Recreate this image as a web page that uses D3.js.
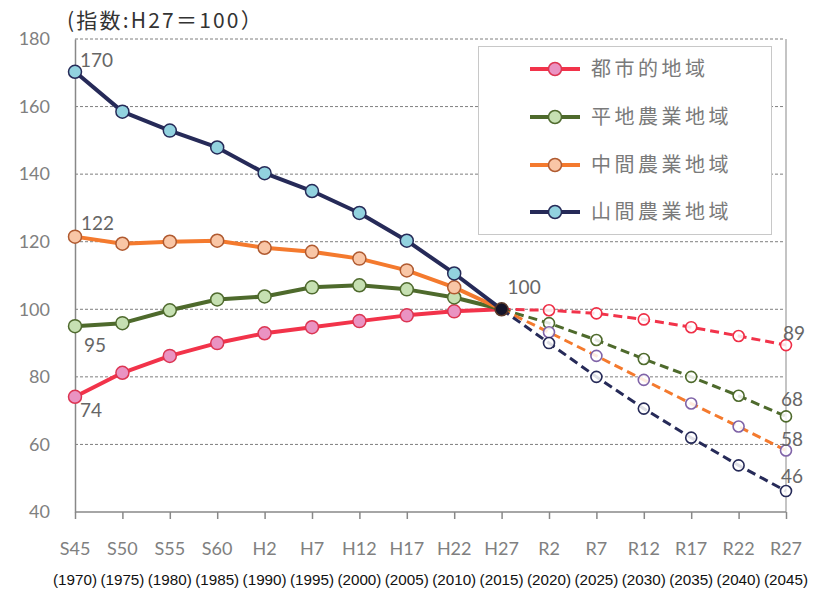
<!DOCTYPE html>
<html><head><meta charset="utf-8">
<script src="https://cdn.jsdelivr.net/npm/d3@7"></script>
<style>body{margin:0;background:#fff}svg{display:block}</style>
</head><body>
<svg id="c" width="826" height="590"></svg>
<script>
const eraLabels = ["S45","S50","S55","S60","H2","H7","H12","H17","H22","H27","R2","R7","R12","R17","R22","R27"];
const yearLabels = ["1970","1975","1980","1985","1990","1995","2000","2005","2010","2015","2020","2025","2030","2035","2040","2045"];
const yTicks = [40,60,80,100,120,140,160,180];
const seriesNames = ["都市的地域","平地農業地域","中間農業地域","山間農業地域"];
const urban    = [74.1,81.2,86.2,90.0,92.9,94.7,96.5,98.2,99.4,100,99.7,98.8,97.0,94.7,92.1,89.4];
const plain    = [95.0,95.9,99.7,102.9,103.8,106.5,107.1,105.9,103.5,100,95.9,90.9,85.3,80.0,74.4,68.3];
const middle   = [121.5,119.4,120.0,120.3,118.2,117.0,115.0,111.5,106.5,100,93.2,86.2,79.1,72.1,65.3,58.2];
const mountain = [170.3,158.5,152.9,147.9,140.3,135.0,128.5,120.3,110.6,100,90.0,80.0,70.6,62.0,53.8,46.2];
const baseIndex = 9;

const styles = [
  {line:"#f2334a", fill:"#ea93c2", stroke:"#dc3552", proj:"#ef2e46"},
  {line:"#4e6a2c", fill:"#c6e0b2", stroke:"#4f6a2e", proj:"#4e6a2c"},
  {line:"#f47a2e", fill:"#f9c6a6", stroke:"#b05a30", proj:"#8064a8"},
  {line:"#262a58", fill:"#92d2df", stroke:"#262a58", proj:"#262a58"}
];
const data = [urban, plain, middle, mountain];

const svg = d3.select("#c");
const x = d3.scalePoint().domain(eraLabels).range([75, 786]);
const y = d3.scaleLinear().domain([40,180]).range([512, 39]);

// gridlines
svg.append("g").selectAll("line").data(yTicks.filter(t=>t>40)).join("line")
  .attr("x1",75).attr("x2",784).attr("y1",d=>y(d)).attr("y2",d=>y(d))
  .attr("stroke","#7f7f7f").attr("stroke-width",1).attr("stroke-dasharray","3,2");

// right border line
svg.append("line").attr("x1",786).attr("x2",786).attr("y1",y(180)).attr("y2",y(40))
  .attr("stroke","#b0b0b0").attr("stroke-width",1.5);

// y axis
const yAxis = d3.axisLeft(y).tickValues(yTicks).tickSize(0).tickPadding(25);
const gy = svg.append("g").attr("transform","translate(75,0)").call(yAxis);
gy.select(".domain").attr("stroke","#888").attr("stroke-width",1.5);
gy.selectAll("text").attr("font-family","Lato, 'Open Sans', sans-serif").attr("font-size",18).attr("fill","#808080");

// x axis
const xAxis = d3.axisBottom(x).tickSize(7).tickFormat(()=>"");
const gx = svg.append("g").attr("transform","translate(0,512)").call(xAxis);
gx.select(".domain").attr("stroke","#888").attr("stroke-width",1.5).attr("d","M75,0H786");
gx.selectAll(".tick line").attr("stroke","#888").attr("stroke-width",1.5);

svg.append("g").selectAll("text").data(eraLabels).join("text")
  .attr("x",d=>x(d)).attr("y",555).attr("text-anchor","middle")
  .attr("font-family","Lato, 'Open Sans', sans-serif").attr("font-size",18).attr("fill","#808080")
  .text(d=>d);
svg.append("g").selectAll("text").data(yearLabels).join("text")
  .attr("x",(d,i)=>x(eraLabels[i])).attr("y",585).attr("text-anchor","middle")
  .attr("font-family","'Liberation Sans', Arial, sans-serif").attr("font-size",14).attr("fill","#111")
  .attr("textLength",44).attr("lengthAdjust","spacingAndGlyphs")
  .text(d=>"("+d+")");

// title
svg.append("text").attr("x",67).attr("y",28)
  .attr("font-family","'Noto Sans CJK JP', sans-serif").attr("font-size",21).attr("fill","#333")
  .attr("letter-spacing",2.2)
  .text("(指数:H27＝100）");

const line = d3.line().x(d=>x(eraLabels[d.i])).y(d=>y(d.v));

// projected dashed lines
data.forEach((arr,s)=>{
  const pts = arr.map((v,i)=>({v,i})).filter(d=>d.i>=baseIndex);
  svg.append("path").datum(pts).attr("d",line).attr("fill","none")
    .attr("stroke",styles[s].line).attr("stroke-width",3).attr("stroke-dasharray","9,5");
});
data.forEach((arr,s)=>{
  const pts = arr.map((v,i)=>({v,i})).filter(d=>d.i>baseIndex);
  svg.append("g").selectAll("circle").data(pts).join("circle")
    .attr("cx",d=>x(eraLabels[d.i])).attr("cy",d=>y(d.v)).attr("r",5.5)
    .attr("fill","#fff").attr("fill-opacity",0.85).attr("stroke",styles[s].proj).attr("stroke-width",1.6);
});

// solid historical lines
data.forEach((arr,s)=>{
  const pts = arr.map((v,i)=>({v,i})).filter(d=>d.i<=baseIndex);
  svg.append("path").datum(pts).attr("d",line).attr("fill","none")
    .attr("stroke",styles[s].line).attr("stroke-width",4).attr("stroke-linejoin","round");
  svg.append("g").selectAll("circle").data(pts.filter(d=>d.i<baseIndex)).join("circle")
    .attr("cx",d=>x(eraLabels[d.i])).attr("cy",d=>y(d.v)).attr("r",6.5)
    .attr("fill",styles[s].fill).attr("stroke",styles[s].stroke).attr("stroke-width",1.5);
});
// base point
svg.append("circle").attr("cx",x(eraLabels[baseIndex])).attr("cy",y(100)).attr("r",6.5)
  .attr("fill","#15152a").attr("stroke","#5a3a2a").attr("stroke-width",1.5);

// data labels
const lbl = (t,xx,yy)=>svg.append("text").attr("x",xx).attr("y",yy)
  .attr("font-family","Lato, 'Open Sans', sans-serif").attr("font-size",19).attr("fill","#666").text(t);
const fmt = v=>String(Math.round(v));
lbl(fmt(mountain[0]), x(eraLabels[0])+5, y(mountain[0])-5);
lbl(fmt(middle[0]), x(eraLabels[0])+6, y(middle[0])-7);
lbl(fmt(plain[0]), x(eraLabels[0])+9, y(plain[0])+26);
lbl(fmt(urban[0]), x(eraLabels[0])+5, y(urban[0])+20);
lbl("100", x(eraLabels[baseIndex])+6, y(100)-15);
const last = eraLabels.length-1;
lbl(fmt(urban[last]), x(eraLabels[last])-3, y(urban[last])-5);
lbl(fmt(plain[last]), x(eraLabels[last])-5, y(plain[last])-10);
lbl(fmt(middle[last]), x(eraLabels[last])-5, y(middle[last])-5);
lbl(fmt(mountain[last]), x(eraLabels[last])-5, y(mountain[last])-8);

// legend
const lg = svg.append("g");
lg.append("rect").attr("x",478.5).attr("y",46.5).attr("width",293).attr("height",188)
  .attr("fill","#fff").attr("stroke","#c8c8c8").attr("stroke-width",1);
const rowsY = [69,117,165,212];
seriesNames.forEach((n,s)=>{
  const g = lg.append("g");
  g.append("line").attr("x1",530).attr("x2",580).attr("y1",rowsY[s]).attr("y2",rowsY[s])
    .attr("stroke",styles[s].line).attr("stroke-width",4);
  g.append("circle").attr("cx",555).attr("cy",rowsY[s]).attr("r",6.5)
    .attr("fill",styles[s].fill).attr("stroke",styles[s].stroke).attr("stroke-width",1.5);
  g.append("text").attr("x",591).attr("y",rowsY[s]+7)
    .attr("font-family","'Noto Sans CJK JP', sans-serif").attr("font-size",20).attr("fill","#7a7a7a")
    .attr("letter-spacing",3.5)
    .text(n);
});
</script>
</body></html>
